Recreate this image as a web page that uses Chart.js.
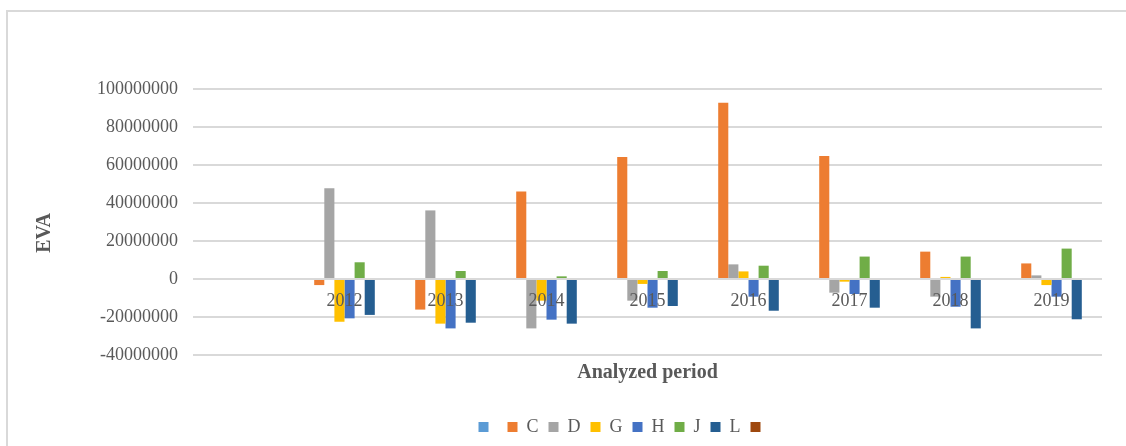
<!DOCTYPE html>
<html>
<head>
<meta charset="utf-8">
<title>EVA by analyzed period</title>
<script src="https://cdn.jsdelivr.net/npm/chart.js@4/dist/chart.umd.min.js"></script>
<style>
  html, body { margin: 0; padding: 0; background: #ffffff; overflow: hidden; }
  #wrap { position: relative; width: 1126px; height: 446px; }
  #frame {
    position: absolute; left: 6px; top: 10px; width: 1140px; height: 460px;
    border-top: 2px solid #d9d9d9; border-left: 2px solid #d9d9d9;
    pointer-events: none;
  }
  canvas { position: absolute; left: 0; top: 0; }
</style>
</head>
<body>
<div id="wrap">
  <canvas id="chart" width="1126" height="446"></canvas>
  <div id="frame"></div>
</div>
<script>
// Years on the category axis (the axis opens with one empty slot)
const years = ['2012', '2013', '2014', '2015', '2016', '2017', '2018', '2019'];

// EVA per company and year
const evaC = [-3200000, -16100000, 46000000, 64200000, 92800000, 64700000, 14400000, 8200000];
const evaD = [47700000, 36100000, -26000000, -11400000, 7700000, -7200000, -9300000, 1900000];
const evaG = [-22500000, -23500000, -11400000, -2600000, 4000000, -1400000, 1100000, -3200000];
const evaH = [-20700000, -26000000, -21400000, -15100000, -9300000, -7900000, -14600000, -9300000];
const evaJ = [8800000, 4200000, 1400000, 4200000, 7000000, 11800000, 11800000, 16000000];
const evaL = [-18900000, -23000000, -23500000, -14200000, -16700000, -15100000, -26000000, -21200000];

// Y axis ticks
const yMin = -40000000;
const yMax = 100000000;
const yStep = 20000000;

const categories = [''].concat(years);
const withLead = arr => [null].concat(arr);
const empty = categories.map(() => null);

const series = [
  { label: '',  data: empty,          color: '#5B9BD5' },
  { label: 'C', data: withLead(evaC), color: '#ED7D31' },
  { label: 'D', data: withLead(evaD), color: '#A5A5A5' },
  { label: 'G', data: withLead(evaG), color: '#FFC000' },
  { label: 'H', data: withLead(evaH), color: '#4472C4' },
  { label: 'J', data: withLead(evaJ), color: '#70AD47' },
  { label: 'L', data: withLead(evaL), color: '#255E91' },
  { label: '',  data: empty,          color: '#9E480E' }
];

const serif = "'Liberation Serif', 'Times New Roman', serif";
const textGray = '#595959';
const gridGray = '#d9d9d9';

// Nudges the legend row sideways and lowers the value-axis title a little
const layoutTweaks = {
  id: 'layoutTweaks',
  afterLayout(chart, args, opts) {
    const lg = chart.legend;
    if (lg) {
      lg.left += opts.legendDx;
      lg.right += opts.legendDx;
    }
    const y = chart.scales.y;
    if (y) {
      y.bottom += opts.yTitleDy * 2;
    }
  }
};

new Chart(document.getElementById('chart'), {
  type: 'bar',
  data: {
    labels: categories,
    datasets: series.map(s => ({
      label: s.label,
      data: s.data,
      backgroundColor: s.color,
      borderWidth: 0,
      categoryPercentage: 0.8,
      barPercentage: 1.0
    }))
  },
  options: {
    responsive: false,
    animation: false,
    devicePixelRatio: 1,
    layout: { padding: { top: 89, right: 24, left: 0, bottom: 0 } },
    plugins: {
      tooltip: { enabled: false },
      legend: {
        position: 'bottom',
        labels: {
          boxWidth: 10,
          boxHeight: 10,
          padding: 10,
          color: textGray,
          font: { family: serif, size: 18 }
        }
      },
      layoutTweaks: { legendDx: 73, yTitleDy: 11 }
    },
    scales: {
      x: {
        type: 'category',
        position: { y: 0 },
        grid: { display: false, drawTicks: false },
        border: { display: false },
        ticks: {
          z: 1,
          color: textGray,
          font: { family: serif, size: 18 },
          padding: 11,
          maxRotation: 0,
          autoSkip: false
        }
      },
      x2: {
        type: 'category',
        position: 'bottom',
        labels: categories,
        grid: { display: false, drawTicks: false },
        border: { display: false },
        ticks: { display: false },
        title: {
          display: true,
          text: 'Analyzed period',
          color: textGray,
          font: { family: serif, size: 20, weight: 'bold' },
          padding: { top: 6, bottom: 23 }
        }
      },
      y: {
        min: yMin,
        max: yMax,
        afterFit(scale) { scale.width = 193; },
        grid: { color: gridGray, lineWidth: 2, drawTicks: false },
        border: { display: false },
        ticks: {
          stepSize: yStep,
          padding: 15,
          color: textGray,
          font: { family: serif, size: 18 },
          callback: v => String(v)
        },
        title: {
          display: true,
          text: 'EVA',
          color: textGray,
          font: { family: serif, size: 20, weight: 'bold' },
          padding: { top: 33, bottom: 0 }
        }
      }
    }
  },
  plugins: [layoutTweaks]
});
</script>
</body>
</html>
